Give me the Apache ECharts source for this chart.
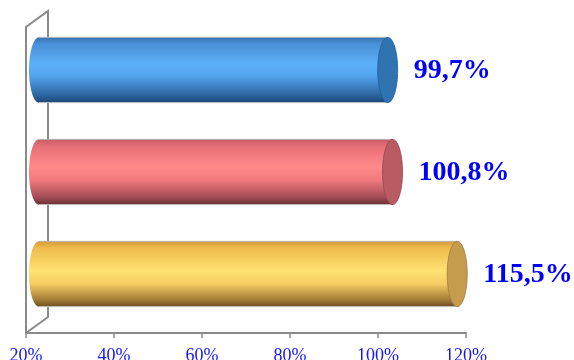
<!DOCTYPE html>
<html>
<head>
<meta charset="utf-8">
<script src="https://cdn.jsdelivr.net/npm/echarts@6/dist/echarts.min.js"></script>
<style>
  html, body { margin: 0; padding: 0; background: #ffffff; }
  #chart { width: 574px; height: 360px; }
</style>
</head>
<body>
<div id="chart"></div>
<script>
// Categories listed bottom to top
const categories = ['Hạng mục 3', 'Hạng mục 2', 'Hạng mục 1'];
const percentValues = [115.5, 100.8, 99.7];
const tickValues = [20, 40, 60, 80, 100, 120];

const X_MIN = tickValues[0];
const X_MAX = tickValues[tickValues.length - 1];
const X_STEP = tickValues[1] - tickValues[0];

// Cylinder palettes (bottom to top): body gradient stops and end-cap colour
const palettes = [
  { body: [[0, '#d49a3c'], [0.1, '#eebb4c'], [0.45, '#ffe271'], [0.65, '#f4cd62'], [0.88, '#a8803a'], [1, '#6e5020']], cap: '#c59b4d', capEdge: '#a07a38' },
  { body: [[0, '#c45c66'], [0.1, '#e66e76'], [0.42, '#ff8a8a'], [0.62, '#f27a7d'], [0.88, '#a44e56'], [1, '#6a2e36']], cap: '#b95b63', capEdge: '#94464e' },
  { body: [[0, '#3672b2'], [0.1, '#4a90d6'], [0.42, '#5cb1fa'], [0.6, '#52a2ec'], [0.88, '#2c66a2'], [1, '#1c4676']], cap: '#2f73b1', capEdge: '#255e94' }
];

// Depth of the 3D frame; cylinders sit at half depth
const DEPTH_X = 22, DEPTH_Y = -16;

function grad(stops) {
  return {
    type: 'linear', x: 0, y: 0, x2: 0, y2: 1,
    colorStops: stops.map(s => ({ offset: s[0], color: s[1] }))
  };
}

function fmtPct(v) {
  return v.toFixed(1).replace('.', ',') + '%';
}

const chart = echarts.init(document.getElementById('chart'), null, { renderer: 'canvas' });

chart.setOption({
  backgroundColor: '#ffffff',
  animation: false,
  grid: {
    left: 26, right: 108, top: 27, bottom: 27,
    containLabel: false,
    outerBoundsMode: 'none'
  },
  xAxis: {
    type: 'value',
    min: X_MIN,
    max: X_MAX,
    interval: X_STEP,
    axisLine: { show: true, lineStyle: { color: '#8a8a8a', width: 2 } },
    axisTick: { show: true, length: 5, lineStyle: { color: '#8a8a8a', width: 1.5 } },
    splitLine: { show: false },
    axisLabel: {
      color: '#1414ff',
      fontFamily: '"Liberation Serif", "DejaVu Serif", serif',
      fontSize: 18,
      margin: 14,
      formatter: '{value}%'
    }
  },
  yAxis: {
    type: 'category',
    data: categories,
    axisLine: { show: false },
    axisTick: { show: false },
    axisLabel: { show: false },
    splitLine: { show: false }
  },
  series: [
    {
      // Side wall of the 3D frame
      type: 'custom',
      silent: true,
      z: 1,
      data: [[X_MIN, 0]],
      renderItem: function (params) {
        const cs = params.coordSys;
        const fx = cs.x, fy = cs.y, fb = cs.y + cs.height;
        return {
          type: 'polyline',
          shape: {
            points: [
              [fx, fb],
              [fx, fy],
              [fx + DEPTH_X, fy + DEPTH_Y],
              [fx + DEPTH_X, fb + DEPTH_Y],
              [fx, fb]
            ]
          },
          style: { stroke: '#8a8a8a', lineWidth: 2, fill: null }
        };
      }
    },
    {
      // Cylinder bars with value labels
      type: 'custom',
      z: 3,
      encode: { x: 0, y: 1 },
      data: percentValues.map((v, i) => [v, i]),
      renderItem: function (params, api) {
        const v = api.value(0);
        const idx = api.value(1);
        const endPt = api.coord([v, idx]);
        const startPt = api.coord([X_MIN, idx]);
        const band = api.size([0, 1])[1];
        const h = band * 0.64;
        const ry = h / 2;
        const rx = 10;
        const cy = endPt[1] + DEPTH_Y / 2;
        const x0 = startPt[0] + DEPTH_X / 2 + 2;
        const x1 = endPt[0] + DEPTH_X / 2;
        const pal = palettes[idx];
        const bodyFill = grad(pal.body);
        return {
          type: 'group',
          children: [
            {
              type: 'ellipse',
              shape: { cx: x0, cy: cy, rx: rx, ry: ry },
              style: { fill: bodyFill }
            },
            {
              type: 'rect',
              shape: { x: x0, y: cy - ry, width: x1 - x0, height: h },
              style: { fill: bodyFill }
            },
            {
              type: 'line',
              shape: { x1: x0, y1: cy - ry, x2: x1, y2: cy - ry },
              style: { stroke: '#b4b4b4', lineWidth: 1 }
            },
            {
              type: 'line',
              shape: { x1: x0, y1: cy + ry, x2: x1, y2: cy + ry },
              style: { stroke: '#c8c8c8', lineWidth: 1 }
            },
            {
              type: 'ellipse',
              shape: { cx: x1, cy: cy, rx: rx, ry: ry },
              style: { fill: pal.cap, stroke: pal.capEdge, lineWidth: 0.8 }
            },
            {
              type: 'text',
              style: {
                text: fmtPct(v),
                x: x1 + rx + 16,
                y: cy + 1,
                align: 'left',
                verticalAlign: 'middle',
                fill: '#0000ff',
                font: 'bold 28px "Liberation Serif", "DejaVu Serif", serif'
              }
            }
          ]
        };
      }
    }
  ]
});
</script>
</body>
</html>
